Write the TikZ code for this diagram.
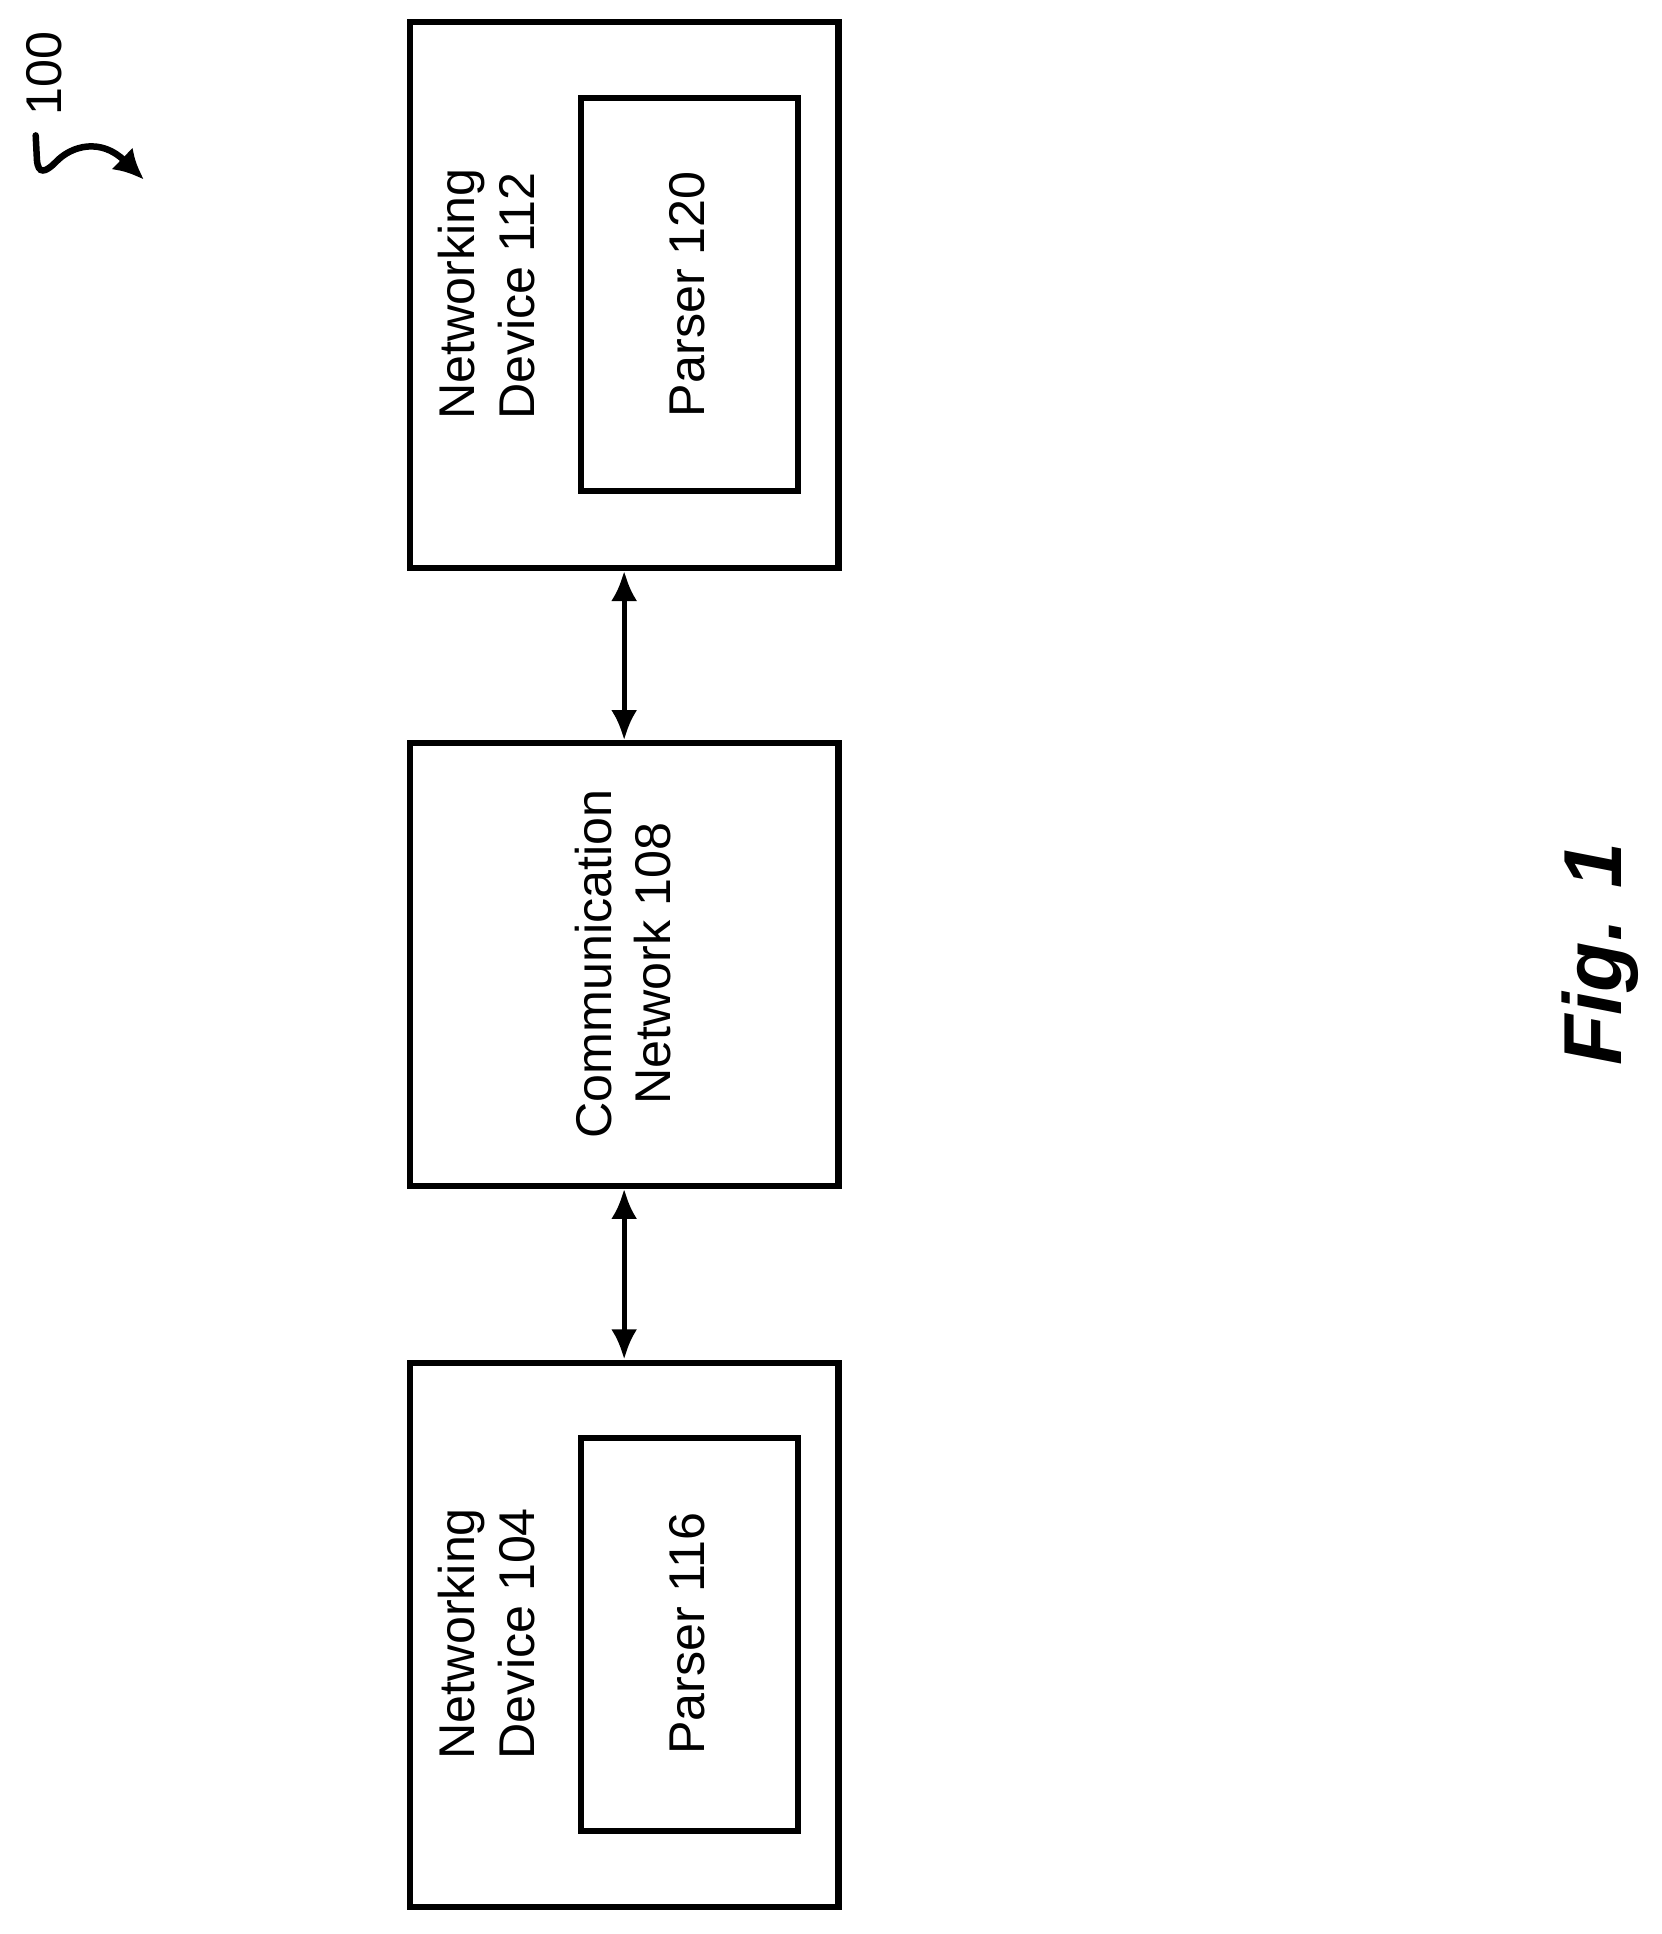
\documentclass[tikz,border=0pt]{standalone}
\usepackage{fontspec}
\setmainfont{Liberation Sans}
\usetikzlibrary{arrows.meta}
\begin{document}
\begin{tikzpicture}[x=0.01cm,y=-0.01cm]
\tikzset{box/.style={draw, line width=1.4pt},
  lbl/.style={rotate=90, font=\fontsize{11.6}{13.8}\selectfont},
  link/.style={{Latex[length=7pt,width=6pt]}-{Latex[length=7pt,width=6pt]}, line width=1.2pt}}
\useasboundingbox (0,0) rectangle (1350,1571);

\node[box, minimum width=3.48cm, minimum height=4.43cm] (nd112) at (507,239.5) {};
\node[box, minimum width=1.76cm, minimum height=3.19cm] (p120) at (560,239.5) {};
\node[box, minimum width=3.48cm, minimum height=3.59cm] (cn108) at (507,783.5) {};
\node[box, minimum width=3.48cm, minimum height=4.42cm] (nd104) at (507,1328) {};
\node[box, minimum width=1.76cm, minimum height=3.19cm] (p116) at (560,1327.5) {};

\node[lbl, align=left] at (395,239) {Networking\\Device 112};
\node[lbl] at (558,239) {Parser 120};
\node[lbl, align=center] at (506,783) {Communication\\Network 108};
\node[lbl, align=left] at (395,1327) {Networking\\Device 104};
\node[lbl] at (558,1327) {Parser 116};

\draw[link] (nd112.south) -- (cn108.north);
\draw[link] (cn108.south) -- (nd104.north);

\node[rotate=90, font=\fontsize{19}{22}\selectfont\bfseries\itshape] (fig) at (1300,775) {Fig. 1};

\node[lbl] (ref) at (36,60) {100};
\coordinate (sqs) at (29,110);
\coordinate (sqe) at (117,146);
\draw[line width=1.5pt, line cap=round, -{Latex[length=7pt,width=7pt]}] (sqs) -- (30,130) .. controls (31,142) and (37,140) .. (45,132) .. controls (58,118) and (82,112) .. (sqe);
\end{tikzpicture}
\end{document}
